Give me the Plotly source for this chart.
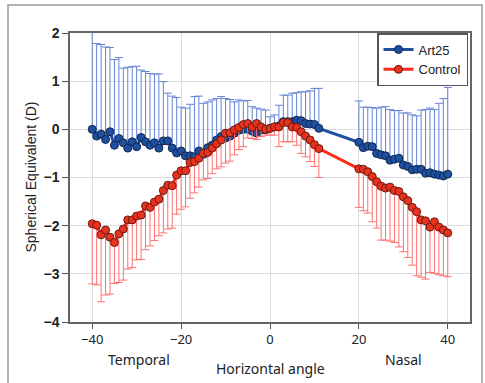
import plotly.graph_objects as go

# ---- data ----
angles_left = list(range(-40, 12))
angles_right = list(range(20, 41))
angles = angles_left + angles_right

art25_mean = [0.0, -0.14, -0.10, -0.21, -0.05, -0.33, -0.19, -0.28, -0.39, -0.26,
              -0.36, -0.17, -0.26, -0.33, -0.28, -0.39, -0.24, -0.24, -0.39, -0.49,
              -0.45, -0.55, -0.55, -0.57, -0.45, -0.52, -0.38, -0.33, -0.22, -0.15,
              -0.18, -0.14, -0.08, -0.02, 0.0, 0.0, -0.04, -0.08, -0.01, -0.01,
              0.02, 0.05, 0.07, 0.16, 0.16, 0.16, 0.19, 0.18, 0.12, 0.11,
              0.10, 0.02,
              -0.27, -0.38, -0.35, -0.36, -0.50, -0.53, -0.55, -0.64, -0.62, -0.60,
              -0.74, -0.77, -0.84, -0.83, -0.83, -0.91, -0.90, -0.93, -0.95, -0.97,
              -0.93]
art25_upper = [2.1, 1.78, 1.76, 1.71, 1.70, 1.45, 1.49, 1.27, 1.29, 1.30,
               1.31, 1.23, 1.20, 1.16, 1.15, 1.15, 0.99, 0.75, 0.69, 0.66,
               0.46, 0.44, 0.52, 0.68, 0.69, 0.54, 0.57, 0.61, 0.64, 0.68,
               0.64, 0.62, 0.57, 0.61, 0.59, 0.60, 0.47, 0.44, 0.42, 0.40,
               0.26, 0.30, 0.50, 0.71, 0.71, 0.75, 0.76, 0.78, 0.78, 0.80,
               0.85, 0.85,
               0.59, 0.46, 0.46, 0.45, 0.44, 0.46, 0.47, 0.41, 0.39, 0.39,
               0.34, 0.34, 0.30, 0.28, 0.40, 0.41, 0.44, 0.41, 0.54, 0.64,
               0.87]

control_mean = [-1.96, -1.99, -2.19, -2.09, -2.24, -2.35, -2.17, -2.07, -1.88, -1.88,
                -1.80, -1.78, -1.59, -1.62, -1.51, -1.45, -1.27, -1.16, -1.17, -0.95,
                -0.86, -0.86, -0.69, -0.67, -0.60, -0.50, -0.48, -0.39, -0.30, -0.22,
                -0.08, -0.07, -0.01, 0.04, 0.10, 0.12, 0.05, 0.12, 0.05, 0.0,
                0.02, 0.05, 0.05, 0.14, 0.14, 0.05, 0.04, -0.05, -0.14, -0.22,
                -0.32, -0.40,
                -0.82, -0.83, -0.88, -0.98, -1.09, -1.18, -1.22, -1.20, -1.27, -1.29,
                -1.40, -1.48, -1.62, -1.71, -1.88, -1.90, -2.03, -1.92, -2.03, -2.09,
                -2.15]
control_lower = [-3.21, -3.23, -3.58, -3.44, -3.42, -3.20, -3.18, -3.13, -2.90, -2.87,
                 -2.71, -2.70, -2.50, -2.42, -2.31, -2.21, -2.15, -2.07, -2.05, -1.76,
                 -1.66, -1.61, -1.43, -1.32, -1.20, -1.05, -1.02, -0.92, -0.82, -0.78,
                 -0.70, -0.66, -0.53, -0.42, -0.36, -0.18, -0.19, -0.21, -0.15, -0.12,
                 -0.12, -0.12, -0.36, -0.26, -0.26, -0.26, -0.33, -0.50, -0.57, -0.67,
                 -0.77, -1.00,
                 -1.62, -1.69, -1.74, -1.92, -2.05, -2.30, -2.30, -2.32, -2.35, -2.44,
                 -2.54, -2.66, -2.82, -3.04, -3.07, -3.11, -2.97, -2.99, -3.02, -3.04,
                 -3.06]

x_ticks = [-40, -20, 0, 20, 40]
y_ticks = [-4, -3, -2, -1, 0, 1, 2]

art25_err = [u - m for u, m in zip(art25_upper, art25_mean)]
control_err = [m - l for m, l in zip(control_mean, control_lower)]

fig = go.Figure()
fig.add_trace(go.Scatter(
    x=angles, y=art25_mean, name="Art25", mode="lines+markers",
    line=dict(color="#1F4FA0", width=3),
    marker=dict(size=8, color="#1F4FA0", line=dict(color="#10284F", width=1)),
    error_y=dict(type="data", symmetric=False, array=art25_err,
                 arrayminus=[0] * len(angles), color="#6483D4",
                 thickness=1, width=4),
))
fig.add_trace(go.Scatter(
    x=angles, y=control_mean, name="Control", mode="lines+markers",
    line=dict(color="#FF2B1A", width=3),
    marker=dict(size=8, color="#E8321E", line=dict(color="#6B1A10", width=1)),
    error_y=dict(type="data", symmetric=False, array=[0] * len(angles),
                 arrayminus=control_err, color="#FF7070",
                 thickness=1, width=4),
))

label_font = dict(family="Noto Sans, Open Sans", size=14, color="#222")
fig.update_layout(
    width=485, height=383,
    margin=dict(l=70, r=15, t=33, b=61),
    paper_bgcolor="white", plot_bgcolor="white",
    showlegend=True,
    legend=dict(x=0.995, y=1, xanchor="right", yanchor="top",
                bgcolor="white", bordercolor="#555", borderwidth=1.5,
                font=dict(family="Liberation Sans, Arial", size=13, color="#222"),
                tracegroupgap=0),
    xaxis=dict(range=[-45, 45], tickvals=x_ticks, ticks="outside", ticklen=5,
               tickcolor="#555", showgrid=True, gridcolor="#DCDCDC", gridwidth=1,
               showline=True, linecolor="#666", linewidth=1.5, mirror=True,
               zeroline=False,
               tickfont=dict(family="Noto Sans, Open Sans", size=13, color="#222")),
    yaxis=dict(range=[-4, 2], tickvals=y_ticks, ticks="outside", ticklen=6,
               tickcolor="#555", showgrid=True, gridcolor="#DCDCDC", gridwidth=1,
               showline=True, linecolor="#666", linewidth=1.5, mirror=True,
               zeroline=False,
               tickfont=dict(family="Liberation Sans, Arial", size=14, color="#222",
                             weight="bold")),
    annotations=[
        dict(text="Spherical Equivalent (D)", textangle=-90, xref="paper", yref="paper",
             x=(30 - 70) / 400, y=0.5, xanchor="center", yanchor="middle",
             showarrow=False, font=dict(family="Liberation Sans, Arial", size=14, color="#222")),
        dict(text="Temporal", xref="paper", yref="paper", x=(139 - 70) / 400,
             y=(322 - 359) / 289, xanchor="center", yanchor="middle", showarrow=False,
             font=label_font),
        dict(text="Nasal", xref="paper", yref="paper", x=(403 - 70) / 400,
             y=(322 - 359) / 289, xanchor="center", yanchor="middle", showarrow=False,
             font=label_font),
        dict(text="Horizontal angle", xref="paper", yref="paper", x=(270 - 70) / 400,
             y=(322 - 368) / 289, xanchor="center", yanchor="middle", showarrow=False,
             font=label_font),
    ],
    shapes=[
        dict(type="rect", xref="paper", yref="paper",
             x0=(8 - 70) / 400, x1=(482 - 70) / 400,
             y0=(322 - 395) / 289, y1=(322 - 5) / 289,
             line=dict(color="#9A9A9A", width=1.5), fillcolor="rgba(0,0,0,0)"),
    ],
)

fig.write_html("out.html")
